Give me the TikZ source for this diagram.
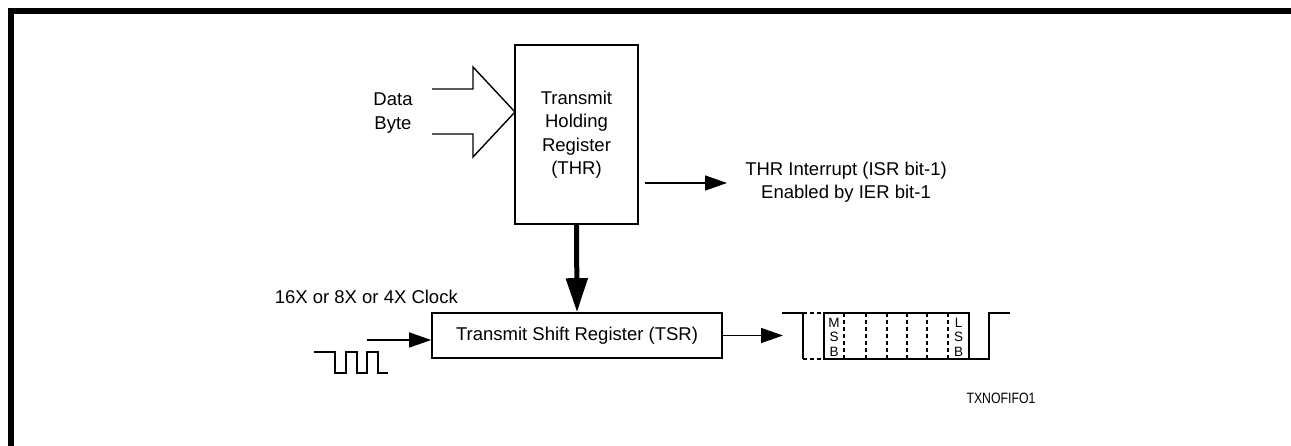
\documentclass[tikz,border=0pt]{standalone}
\usepackage{fontspec}
\setmainfont{Liberation Sans}
\usetikzlibrary{arrows.meta}
\tikzset{
  txt/.style={font=\fontsize{18.5}{23.5}\selectfont, inner sep=0pt, align=center},
  regbox/.style={txt, draw, line width=1.6pt},
  sig/.style={line width=1.4pt, -{Triangle[length=22pt,width=15pt]}},
  bitlbl/.style={font=\fontsize{13.5}{14.5}\selectfont, inner sep=0pt, align=center},
  wave/.style={line width=1.4pt},
  dwave/.style={line width=1.4pt, dash pattern=on 4pt off 3pt}
}
\begin{document}
\begin{tikzpicture}[x=1pt, y=-1pt]
\useasboundingbox (0,0) rectangle (1291,446);
% frame
\draw[line width=6pt] (11,446) -- (11,11) -- (1291,11);
% registers
\node[regbox, minimum width=123pt, minimum height=179pt] (thr) at (576.5,134.5) {Transmit\\Holding\\Register\\(THR)};
\node[regbox, minimum width=290pt, minimum height=45pt] (tsr) at (577,335.5) {Transmit Shift Register (TSR)};
% data byte in
\node[txt] (data) at (393,113) {Data\\Byte};
\draw[line width=1.4pt, line join=miter] (432,89) -- (473,89) -- (473,67) -- (515,112) -- (473,157) -- (473,134) -- (432,134);
% thr -> tsr
\draw[line width=5pt, -{Triangle[length=34pt,width=21pt]}] (thr.south) -- (tsr.north);
% interrupt
\coordinate (irqa) at (645,183);
\coordinate (irqb) at (727,183);
\draw[sig] (irqa) -- (irqb);
\node[txt] (irq) at (846,182) {THR Interrupt (ISR bit-1)\\Enabled by IER bit-1};
% clock
\node[txt, anchor=east] (clk) at (458,297) {16X or 8X or 4X Clock};
\coordinate (clkin) at (367,340);
\draw[sig] (clkin) -- (tsr.west |- clkin);
\draw[wave] (314,352) -- (335,352) -- (335,373) -- (346,373) -- (346,352) -- (357,352) -- (357,373) -- (367,373) -- (367,352) -- (378,352) -- (378,373) -- (388,373);
% serial out
\coordinate (txout) at (783,335.5);
\draw[sig] (tsr.east) -- (txout);
\draw[wave] (782,313) -- (803,313) -- (803,359);
\draw[dwave] (803,313) -- (824,313);
\draw[dwave] (803,359) -- (824,359);
\draw[wave] (824,313) rectangle (969,359);
\draw[wave] (969,359) -- (989,359) -- (989,313) -- (1010,313);
\foreach \x in {844,866,887,907,927,948}
  \draw[dwave] (\x,313) -- (\x,359);
\node[bitlbl] (msb) at (834,337) {M\\S\\B};
\node[bitlbl] (lsb) at (958.5,337) {L\\S\\B};
\node[font=\fontsize{15}{17}\selectfont, inner sep=0pt, xscale=0.82] (fig) at (1001,398) {TXNOFIFO1};
\end{tikzpicture}
\end{document}
